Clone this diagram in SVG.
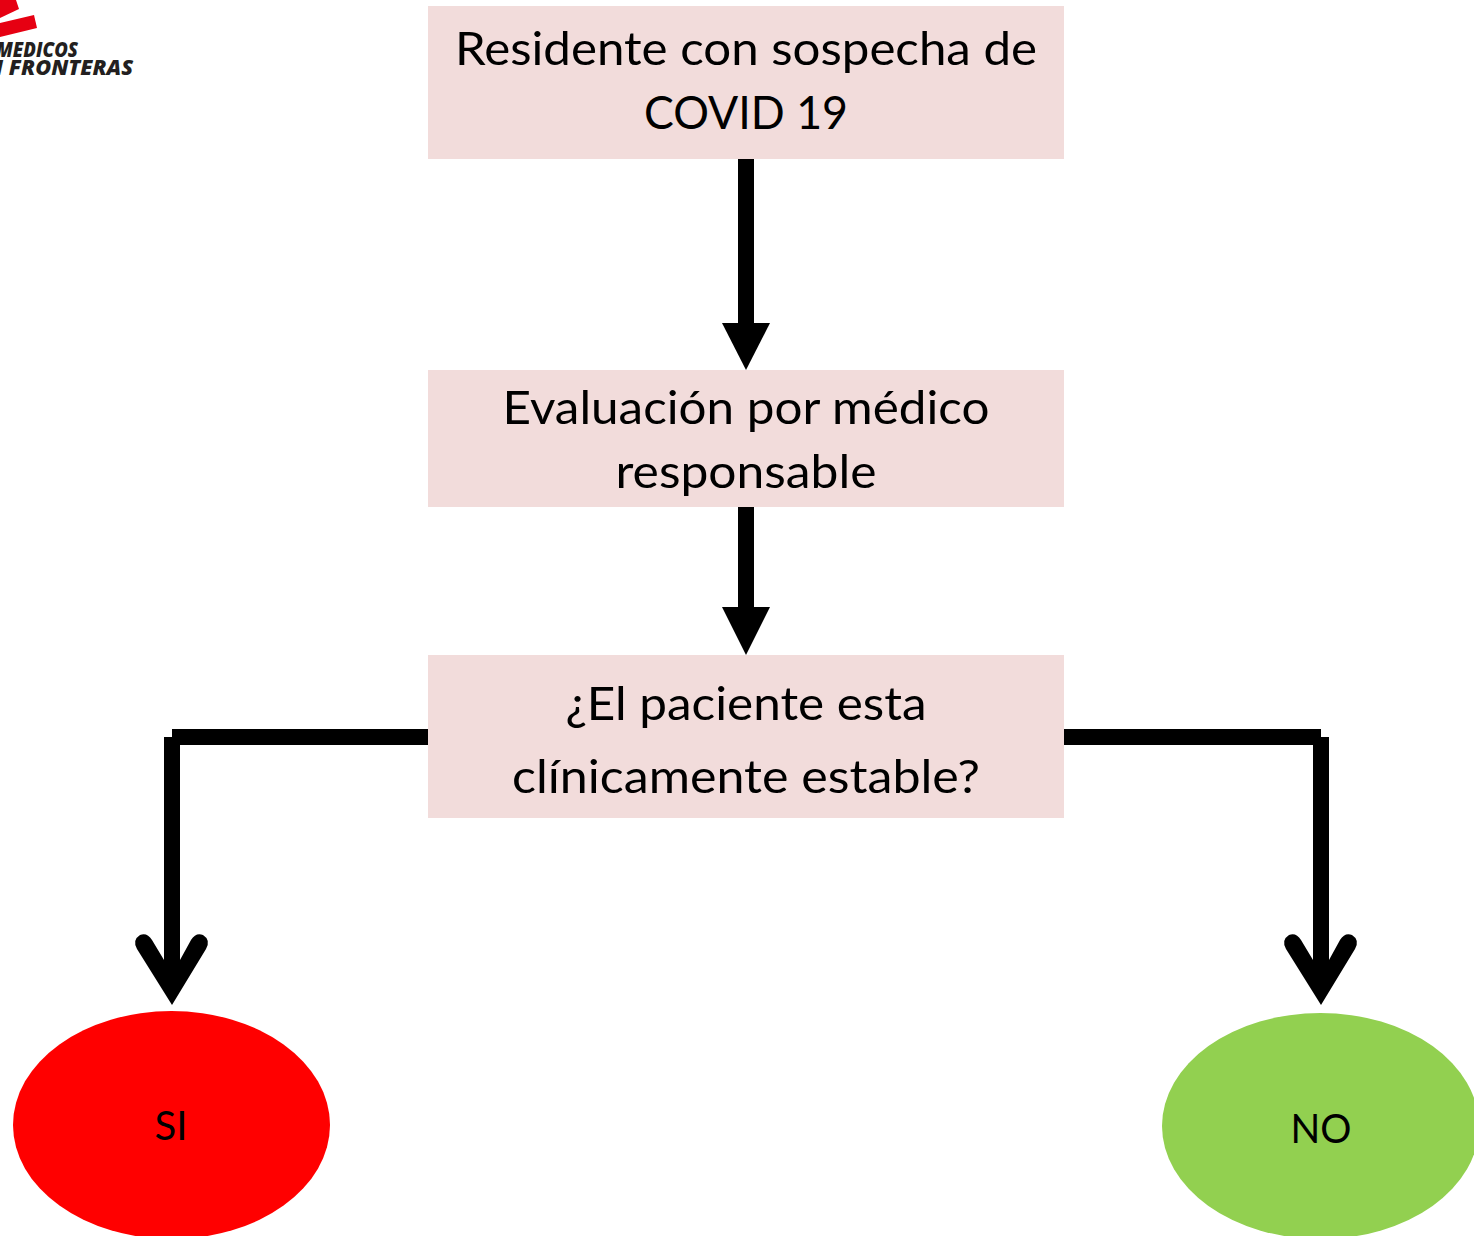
<svg xmlns="http://www.w3.org/2000/svg" width="1474" height="1236" viewBox="0 0 1474 1236">
<style>
.box{fill:#f2dcdb}
.t{font-family:"Lato","Open Sans",sans-serif;fill:#000;text-anchor:middle}
.big{font-size:47px}
.small{font-size:40px}
.line{fill:none;stroke:#000;stroke-width:16}
.head{fill:#000;stroke:none}
.logo{font-family:"Open Sans","Liberation Sans",sans-serif;font-weight:800;font-style:italic;font-size:21px;fill:#231f20}
.red{fill:#e60012}
</style>
<rect width="1474" height="1236" fill="#fff"/>
<g id="logo">
<path class="red" d="M0 0H16L19 9L0 18Z"/>
<path class="red" d="M0 23L34 15L37 28L0 37Z"/>
<text class="logo" x="-4" y="57" textLength="82" lengthAdjust="spacingAndGlyphs">MEDICOS</text>
<text class="logo" x="-14" y="75" textLength="147" lengthAdjust="spacingAndGlyphs">N FRONTERAS</text>
</g>
<g id="connectors">
<path class="line" d="M746 159V325M746 507V610M428 737H172M172 737V965M1064 737H1321M1321 737V965"/>
<path class="head" d="M722 323H770L746 370Z"/>
<path class="head" d="M722 607H770L746 655Z"/>
<path class="head" d="M164 960L152 940Q147 932 140 935Q132 940 137 949L172 1005L206 949Q211 940 203 935Q196 932 191 940L180 960Z"/>
<path class="head" d="M1313 960L1301 940Q1296 932 1289 935Q1281 940 1286 949L1321 1005L1355 949Q1360 940 1352 935Q1345 932 1340 940L1329 960Z"/>
</g>
<g id="n1"><rect class="box" x="428" y="6" width="636" height="153"/>
<text class="t big" x="746" y="65" textLength="582" lengthAdjust="spacingAndGlyphs">Residente con sospecha de</text>
<text class="t big" x="746" y="129" textLength="204" lengthAdjust="spacingAndGlyphs">COVID 19</text></g>
<g id="n2"><rect class="box" x="428" y="370" width="636" height="137"/>
<text class="t big" x="746" y="424" textLength="487" lengthAdjust="spacingAndGlyphs">Evaluación por médico</text>
<text class="t big" x="746" y="488" textLength="261" lengthAdjust="spacingAndGlyphs">responsable</text></g>
<g id="n3"><rect class="box" x="428" y="655" width="636" height="163"/>
<text class="t big" x="746" y="720" textLength="361" lengthAdjust="spacingAndGlyphs">¿El paciente esta</text>
<text class="t big" x="746" y="793" textLength="468" lengthAdjust="spacingAndGlyphs">clínicamente estable?</text></g>
<g id="si"><ellipse cx="171.500" cy="1125" rx="158.500" ry="114" fill="#ff0000"/>
<text class="t small" x="171" y="1140" textLength="33" lengthAdjust="spacingAndGlyphs">SI</text></g>
<g id="no"><ellipse cx="1320.500" cy="1126" rx="158.500" ry="113" fill="#92d050"/>
<text class="t small" x="1321" y="1143" textLength="61" lengthAdjust="spacingAndGlyphs">NO</text></g>
</svg>
